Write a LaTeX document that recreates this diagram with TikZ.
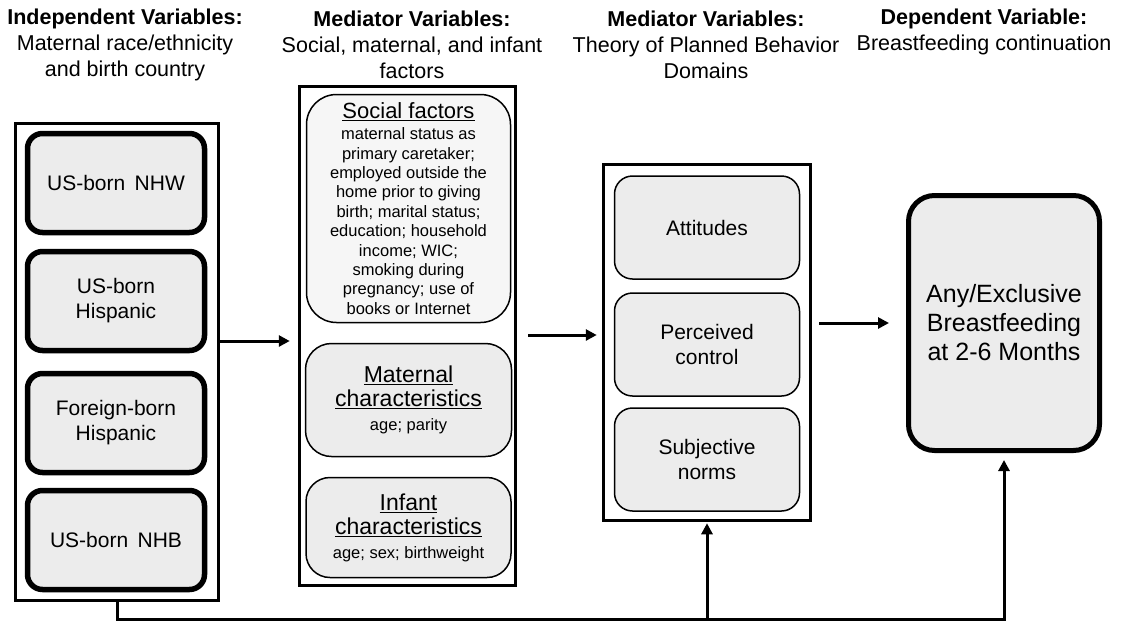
\documentclass[tikz,border=0pt]{standalone}
\usepackage{fontspec}
\setmainfont{Liberation Sans}
\usetikzlibrary{arrows.meta}
\definecolor{boxfill}{RGB}{236,236,236}
\definecolor{socfill}{RGB}{246,246,246}
\begin{document}
\begin{tikzpicture}[x=1pt,y=-1pt,
  title/.style={align=center,font=\fontsize{21.5}{26}\selectfont,inner sep=0pt},
  outerbox/.style={draw,line width=3.5pt,inner sep=0pt},
  ivbox/.style={draw,line width=5.5pt,rounded corners=15pt,fill=boxfill,minimum width=177pt,minimum height=99pt,align=center,font=\fontsize{21}{25}\selectfont,inner sep=0pt},
  medbox/.style={draw,line width=1.5pt,fill=boxfill,align=center,inner sep=0pt},
  tpbbox/.style={medbox,rounded corners=18pt,minimum width=185pt,minimum height=103pt,font=\fontsize{21}{25}\selectfont},
  depbox/.style={draw,line width=5pt,rounded corners=26pt,fill=boxfill,minimum width=191pt,minimum height=255pt,align=center,font=\fontsize{25}{29}\selectfont,inner sep=0pt},
  arr/.style={line width=3pt,-{Triangle[length=11pt,width=11pt]}},
  conn/.style={line width=3pt}]
\useasboundingbox (0,0) rectangle (1133,622);

% titles
\node[title] (t1) at (125,45) {\textbf{Independent Variables:}\\Maternal race/ethnicity\\and birth country};
\node[title] (t2) at (412,45) {\textbf{Mediator Variables:}\\Social, maternal, and infant\\factors};
\node[title] (t3) at (706,45) {\textbf{Mediator Variables:}\\Theory of Planned Behavior\\Domains};
\node[title] (t4) at (984,32) {\textbf{Dependent Variable:}\\Breastfeeding continuation};

% independent variables
\node[outerbox,minimum width=203pt,minimum height=477pt] (leftouter) at (117,362) {};
\node[ivbox] (nhw) at (116,183) {US-born\hspace{0.45em}NHW};
\node[ivbox] (hisp) at (116,301) {US-born\\Hispanic};
\node[ivbox] (fhisp) at (116,423) {Foreign-born\\Hispanic};
\node[ivbox] (nhb) at (116,540) {US-born\hspace{0.45em}NHB};

% mediator: social, maternal, infant
\node[outerbox,minimum width=216pt,minimum height=499pt] (midouter) at (407.5,336) {};
\node[medbox,fill=socfill,rounded corners=30pt,minimum width=204pt,minimum height=228pt,font=\fontsize{16.5}{19.4}\selectfont] (social) at (408.5,208.5)
  {{\fontsize{22}{22}\selectfont\underline{Social factors}}\\[2pt]
   maternal status as\\primary caretaker;\\employed outside the\\home prior to giving\\birth; marital status;\\education; household\\income; WIC;\\smoking during\\pregnancy; use of\\books or Internet};
\node[medbox,rounded corners=26pt,minimum width=206pt,minimum height=113pt,font=\fontsize{16.5}{24}\selectfont] (maternal) at (408.5,400)
  {{\fontsize{23}{24}\selectfont\underline{Maternal}}\\{\fontsize{23}{24}\selectfont\underline{characteristics}}\\age; parity};
\node[medbox,rounded corners=24pt,minimum width=205pt,minimum height=100pt,font=\fontsize{16.5}{24}\selectfont] (infant) at (408.5,527.5)
  {{\fontsize{23}{24}\selectfont\underline{Infant}}\\{\fontsize{23}{24}\selectfont\underline{characteristics}}\\age; sex; birthweight};

% mediator: TPB
\node[outerbox,minimum width=207pt,minimum height=356pt] (tpb) at (707,342.5) {};
\node[tpbbox] (att) at (707,227.5) {Attitudes};
\node[tpbbox] (pc) at (707,344.5) {Perceived\\control};
\node[tpbbox] (sn) at (707,459.5) {Subjective\\norms};

% dependent
\node[depbox] (dep) at (1004,323) {Any/Exclusive\\Breastfeeding\\at 2-6 Months};

% connectors
\coordinate (r1) at (0,341);
\coordinate (r2) at (0,335);
\coordinate (r3) at (0,323);
\coordinate (bus) at (0,619);
\draw[arr,shorten >=8pt] (leftouter.east |- r1) -- (midouter.west |- r1);
\draw[arr,shorten <=11pt,shorten >=5pt] (midouter.east |- r2) -- (tpb.west |- r2);
\draw[arr,shorten <=7pt,shorten >=17pt] (tpb.east |- r3) -- (dep.west |- r3);
\draw[arr,shorten >=7pt] (leftouter.south) -- (leftouter.south |- bus) -| (dep.south);
\draw[arr,shorten >=1pt] (tpb.south |- bus) -- (tpb.south);
\end{tikzpicture}
\end{document}
